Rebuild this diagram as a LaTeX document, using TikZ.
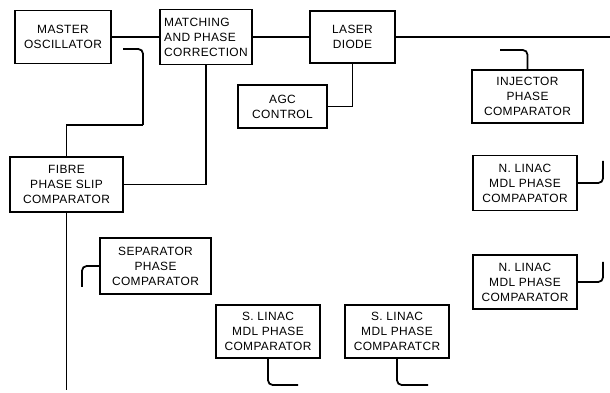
\documentclass[tikz,border=0pt]{standalone}
\usepackage{fontspec}
\setmainfont{Liberation Sans}[LetterSpace=3]
\usetikzlibrary{positioning}
\tikzset{
  blk/.style={draw, line width=1.5pt, inner sep=2pt, align=center, font=\fontsize{10.2}{12.8}\selectfont},
  wire/.style={line width=1.5pt},
  stub/.style={line width=1.5pt, rounded corners=4pt},
}

\begin{document}
\begin{tikzpicture}[x=0.3mm, y=-0.3mm]
  \useasboundingbox (0,0) rectangle (610,393);
  % top chain
  \node[blk, minimum width=28.8mm, minimum height=15.9mm] (master) at (63,37) {MASTER\\OSCILLATOR};
  \node[blk, minimum width=27.6mm, minimum height=16.5mm, align=left] (matching) at (206,37) {MATCHING\\AND PHASE\\CORRECTION};
  \node[blk, minimum width=25.5mm, minimum height=15.6mm] (laser) at (352.5,37) {LASER\\DIODE};
  \node[blk, minimum width=26.7mm, minimum height=12.9mm] (agc) at (282.5,106.5) {AGC\\CONTROL};
  \node[blk, minimum width=33.3mm, minimum height=15.9mm] (injector) at (527.5,96.5) {INJECTOR\\PHASE\\COMPARATOR};
  \coordinate (busend) at (610,37);
  \draw[wire] (master) -- (matching);
  \draw[wire] (matching) -- (laser);
  \draw[wire] (laser) -- (busend);
  \draw[wire] (laser.south) |- (agc.east);
  \coordinate (injend) at (500,50);
  \draw[stub] (injector.north) |- (injend);
  % fibre slip
  \node[blk, minimum width=33.9mm, minimum height=16.5mm] (fibre) at (66.5,184.5) {FIBRE\\PHASE SLIP\\COMPARATOR};
  \coordinate (mofb) at (123,49);
  \coordinate (mobend) at (143,125);
  \coordinate (fibreend) at (66.5,390);
  \draw[wire, rounded corners=4pt] (mofb) -| (mobend);
  \draw[wire] (mobend) -| (fibre.north);
  \draw[wire] (matching.south) |- (fibre.east);
  \draw[wire] (fibre.south) -- (fibreend);
  % comparators
  \node[blk, minimum width=33.3mm, minimum height=16.8mm] (separator) at (155.5,266) {SEPARATOR\\PHASE\\COMPARATOR};
  \node[blk, minimum width=31.2mm, minimum height=15.9mm] (slinacA) at (268,331.5) {S. LINAC\\MDL PHASE\\COMPARATOR};
  \node[blk, minimum width=31.2mm, minimum height=15.9mm] (slinacB) at (397,331.5) {S. LINAC\\MDL PHASE\\COMPARATCR};
  \node[blk, minimum width=31.2mm, minimum height=16.5mm] (nlinacA) at (525,183) {N. LINAC\\MDL PHASE\\COMPAPATOR};
  \node[blk, minimum width=31.2mm, minimum height=16.2mm] (nlinacB) at (525,282) {N. LINAC\\MDL PHASE\\COMPARATOR};
  \coordinate (sepend) at (82,287);
  \coordinate (saend) at (298,385);
  \coordinate (sbend) at (428,385);
  \coordinate (naend) at (603,161);
  \coordinate (nbend) at (603,262);
  \draw[stub] (separator.west) -| (sepend);
  \draw[stub] (slinacA.south) |- (saend);
  \draw[stub] (slinacB.south) |- (sbend);
  \draw[stub] (nlinacA.east) -| (naend);
  \draw[stub] (nlinacB.east) -| (nbend);
\end{tikzpicture}
\end{document}
